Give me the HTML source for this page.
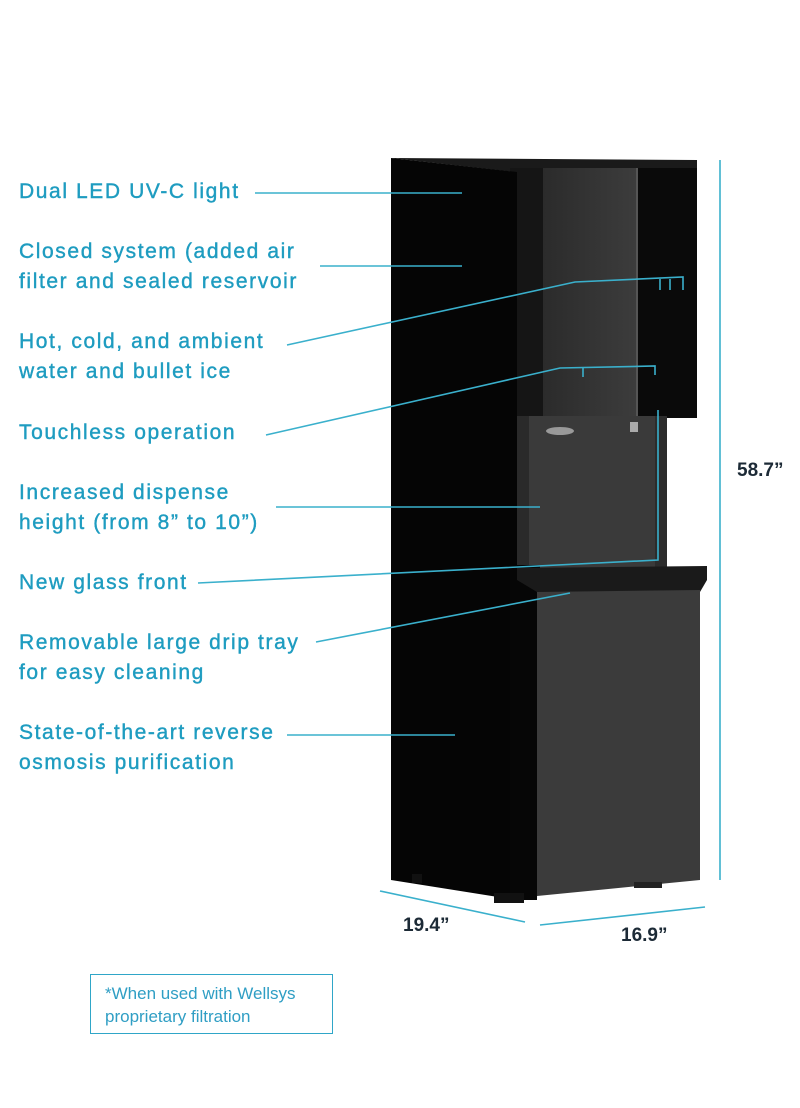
<!DOCTYPE html>
<html><head><meta charset="utf-8"><style>
body{margin:0;background:#fff;width:800px;height:1108px;overflow:hidden;position:relative;font-family:"Liberation Sans",sans-serif}
.l{position:absolute;left:19px;color:#1e9cc0;font-size:21px;letter-spacing:1.6px;line-height:30px;-webkit-text-stroke:0.4px #1e9cc0;white-space:nowrap}
.d{position:absolute;color:#1c2a36;font-size:19px;font-weight:bold}
.box{position:absolute;left:90px;top:974px;width:243px;height:60px;border:1.5px solid #2fa6c8;box-sizing:border-box;color:#2f9ec4;font-size:17px;line-height:23px;padding:7px 0 0 14px}
svg{position:absolute;left:0;top:0}
</style></head><body>
<svg width="800" height="1108">
<defs><linearGradient id="br" x1="0" x2="1"><stop offset="0" stop-color="#2b2b2b"/><stop offset="1" stop-color="#3c3c3c"/></linearGradient></defs>
<polygon points="391,158 697,160 697,168 515,172" fill="#1a1a1a"/>
<rect x="510" y="168" width="35" height="250" fill="#151515"/>
<rect x="543" y="168" width="94" height="250" fill="url(#br)"/>
<rect x="637" y="168" width="60" height="250" fill="#0a0a0a"/>
<rect x="636" y="168" width="2" height="250" fill="#555"/>
<rect x="510" y="416" width="157" height="155" fill="#3a3a3a"/>
<rect x="510" y="416" width="19" height="155" fill="#2a2a2a"/>
<rect x="655" y="416" width="12" height="155" fill="#2c2c2c"/>
<ellipse cx="560" cy="431" rx="14" ry="4" fill="#999"/>
<rect x="630" y="422" width="8" height="10" fill="#aaa"/>
<polygon points="391,158 517,172 517,900 391,880" fill="#050505"/>
<polygon points="510,565 540,565 537,900 510,900" fill="#060606"/>
<polygon points="517,568 707,566 707,580 700,592 537,592 517,580" fill="#1a1a1a"/>
<polygon points="537,592 700,590 700,880 537,896" fill="#3b3b3b"/>
<rect x="412" y="874" width="10" height="9" fill="#111"/>
<rect x="494" y="893" width="30" height="10" fill="#111"/>
<rect x="634" y="882" width="28" height="6" fill="#222"/>
<g stroke="#3ab0cc" stroke-width="1.6" fill="none">
<line x1="255" y1="193" x2="462" y2="193"/>
<line x1="320" y1="266" x2="462" y2="266"/>
<polyline points="287,345 575,282 683,277 683,290"/>
<line x1="660" y1="279" x2="660" y2="290"/><line x1="670" y1="279" x2="670" y2="290"/>
<polyline points="266,435 560,368 655,366 655,375"/>
<line x1="583" y1="368" x2="583" y2="377"/>
<line x1="276" y1="507" x2="540" y2="507"/>
<polyline points="198,583 658,560 658,410"/>
<line x1="316" y1="642" x2="570" y2="593"/>
<line x1="287" y1="735" x2="455" y2="735"/>
<line x1="720" y1="160" x2="720" y2="880"/>
<line x1="380" y1="891" x2="525" y2="922"/>
<line x1="540" y1="925" x2="705" y2="907"/>
</g>
</svg>
<div class="l" style="top:177px">Dual LED UV-C light</div>
<div class="l" style="top:237px">Closed system (added air<br>filter and sealed reservoir</div>
<div class="l" style="top:327px">Hot, cold, and ambient<br>water and bullet ice</div>
<div class="l" style="top:418px">Touchless operation</div>
<div class="l" style="top:478px">Increased dispense<br>height (from 8” to 10”)</div>
<div class="l" style="top:568px">New glass front</div>
<div class="l" style="top:628px">Removable large drip tray<br>for easy cleaning</div>
<div class="l" style="top:718px">State-of-the-art reverse<br>osmosis purification</div>
<div class="d" style="left:737px;top:460px">58.7”</div>
<div class="d" style="left:403px;top:915px">19.4”</div>
<div class="d" style="left:621px;top:925px">16.9”</div>
<div class="box">*When used with Wellsys<br>proprietary filtration</div>
</body></html>
